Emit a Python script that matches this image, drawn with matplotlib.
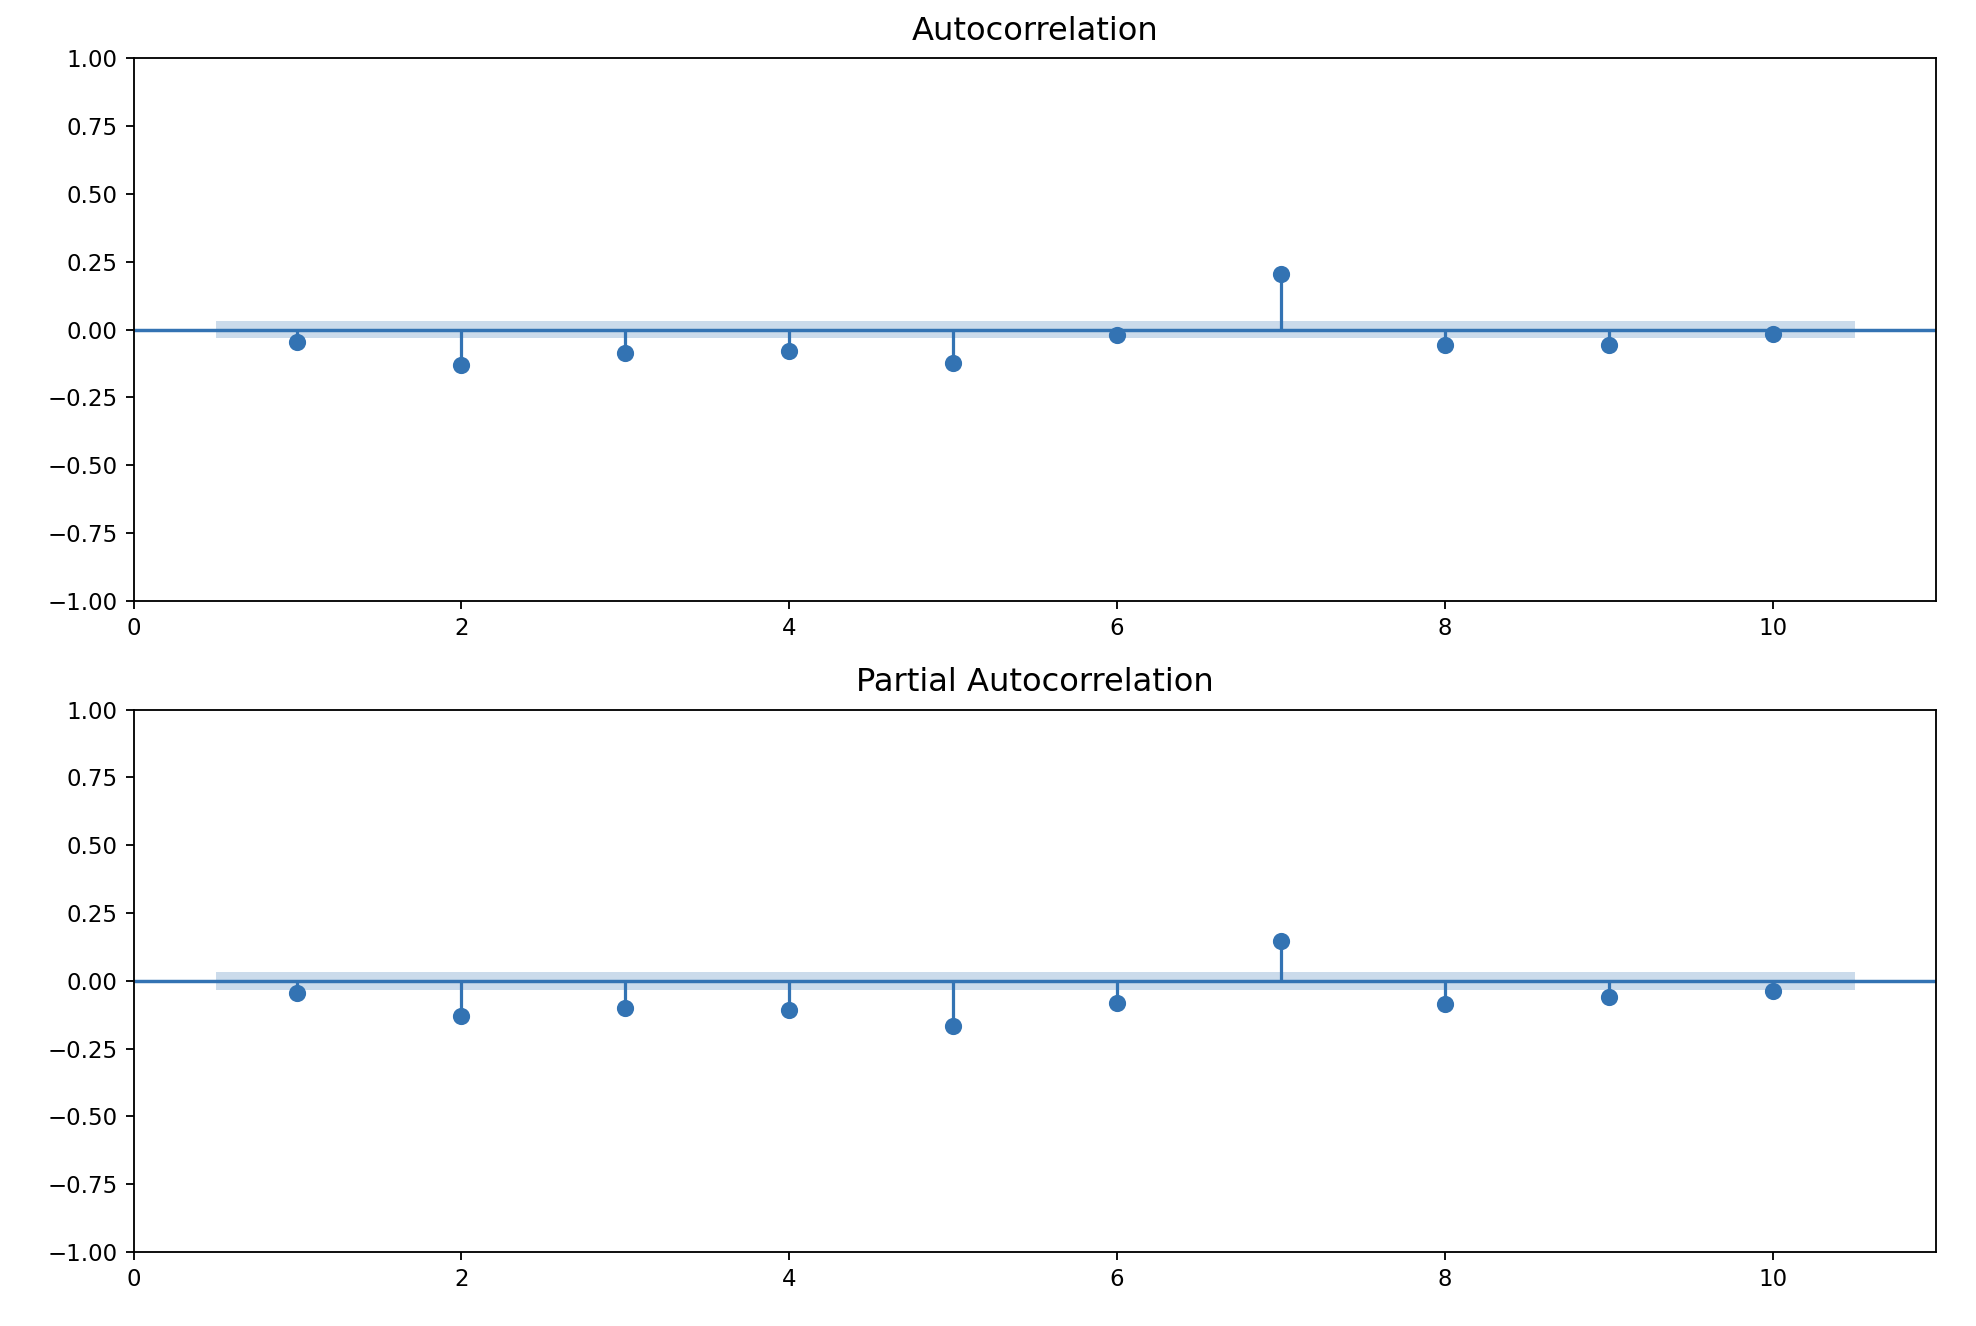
import numpy as np
import matplotlib
matplotlib.use("Agg")
import matplotlib.pyplot as plt

lags = [1, 2, 3, 4, 5, 6, 7, 8, 9, 10]
acf_values = [-0.045, -0.13, -0.088, -0.08, -0.125, -0.022, 0.205, -0.057, -0.057, -0.016]
pacf_values = [-0.045, -0.13, -0.10, -0.108, -0.165, -0.08, 0.147, -0.087, -0.058, -0.038]
conf_half_width = 0.033
titles = ["Autocorrelation", "Partial Autocorrelation"]

DPI = 165
fig = plt.figure(figsize=(1976 / DPI, 1326 / DPI), dpi=DPI)
left, width = 0.0676, 0.9124
ax1 = fig.add_axes([left, 0.547, width, 0.409])
ax2 = fig.add_axes([left, 0.0558, width, 0.409])

color = "#3373b3"
for ax, vals, title in zip([ax1, ax2], [acf_values, pacf_values], titles):
    x = np.array(lags, dtype=float)
    ax.vlines(x, [0], vals, color=color, lw=1.4)
    ax.axhline(0, color=color, lw=1.5)
    ax.plot(x, vals, marker="o", markersize=6.5, linestyle="None", color=color)
    xf = x.copy()
    xf[0] -= 0.5
    xf[-1] += 0.5
    ax.fill_between(xf, -conf_half_width, conf_half_width, color=color, alpha=0.25, lw=0)
    ax.set_xlim(0, 11)
    ax.set_ylim(-1, 1)
    ax.set_yticks(np.arange(-1, 1.01, 0.25))
    ax.set_xticks([0, 2, 4, 6, 8, 10])
    ax.set_title(title, fontsize=14, pad=8)

fig.savefig("out.png", dpi=DPI)
